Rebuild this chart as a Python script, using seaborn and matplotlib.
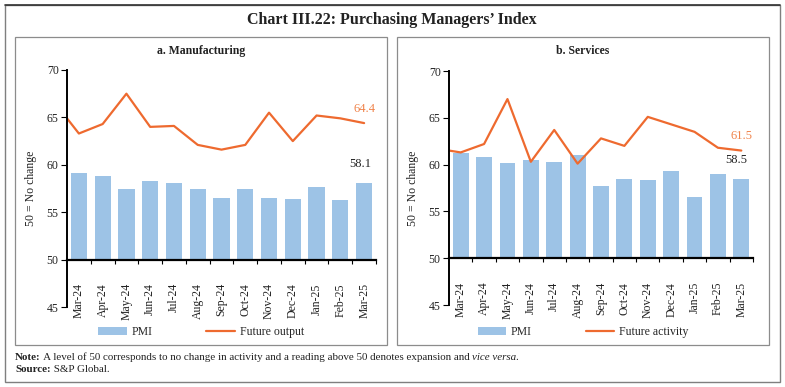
import numpy as np
import pandas as pd
import matplotlib
matplotlib.use("Agg")
import matplotlib.pyplot as plt
from matplotlib.patches import Rectangle
from matplotlib.lines import Line2D
from matplotlib.ticker import FixedLocator
import seaborn as sns

# ---------------- data ----------------
months = ["Mar-24", "Apr-24", "May-24", "Jun-24", "Jul-24", "Aug-24", "Sep-24",
          "Oct-24", "Nov-24", "Dec-24", "Jan-25", "Feb-25", "Mar-25"]

mfg_pmi = [59.1, 58.8, 57.5, 58.3, 58.1, 57.5, 56.5, 57.5, 56.5, 56.4, 57.7, 56.3, 58.1]
# future output: first value is the preceding month (drawn at the axis edge)
mfg_future = [64.9, 63.3, 64.3, 67.5, 64.0, 64.1, 62.1, 61.6, 62.1, 65.5, 62.5, 65.2, 64.9, 64.4]

svc_pmi = [61.2, 60.8, 60.2, 60.5, 60.3, 61.0, 57.7, 58.5, 58.4, 59.3, 56.5, 59.0, 58.5]
svc_future = [61.5, 61.3, 62.2, 67.0, 60.3, 63.7, 60.1, 62.8, 62.0, 65.1, 64.3, 63.5, 61.8, 61.5]

yticks = [45, 50, 55, 60, 65, 70]

# ---------------- style ----------------
sns.set_theme(style="white")
plt.rcParams["font.family"] = ["Liberation Serif", "DejaVu Serif"]

BAR = "#9DC3E6"
LINE = "#EE6A2F"
LABEL_OR = "#F0834A"
TXT = "#222222"
W, H = 785, 387

fig = plt.figure(figsize=(7.85, 3.87), dpi=100)
renderer = fig.canvas.get_renderer()


def fx(px):
    return px / W


def fy(py):
    return 1 - py / H


def rich_text(x_px, y_px, pieces, size):
    """Draw consecutive text pieces (text, weight, style) on one line."""
    x = x_px
    for txt, weight, style in pieces:
        t = fig.text(fx(x), fy(y_px), txt, fontsize=size, fontweight=weight, fontstyle=style,
                     va="center", ha="left", color=TXT)
        bb = t.get_window_extent(renderer=renderer)
        x += bb.width - (1 if style == "italic" else 0)


# outer frame
fig.add_artist(Rectangle((fx(5), fy(382)), fx(775), (382 - 5) / H, transform=fig.transFigure,
                         fill=False, edgecolor="#7f7f7f", lw=1.0))
fig.add_artist(Line2D([fx(5), fx(780)], [fy(5), fy(5)], transform=fig.transFigure,
                      color="#333333", lw=1.2))

fig.text(fx(392), fy(20), "Chart III.22: Purchasing Managers\u2019 Index", ha="center", va="center",
         fontsize=11.5, fontweight="bold", color=TXT)


def panel(box, axrect, title, pmi, fut, fut_name, lab_fut, lab_pmi, pmi_dx):
    x0, y0, x1, y1 = box
    fig.add_artist(Rectangle((fx(x0), fy(y1)), fx(x1 - x0), (y1 - y0) / H, transform=fig.transFigure,
                             fill=False, edgecolor="#8c8c8c", lw=0.9))
    fig.text(fx((x0 + x1) / 2), fy(51), title, ha="center", va="center", fontsize=8.5,
             fontweight="bold", color=TXT)
    ax = fig.add_axes(axrect)
    df = pd.DataFrame({"month": months, "pmi": pmi})
    # bars rise from the 50 line
    df["height"] = df["pmi"] - 50
    sns.barplot(data=df, x="month", y="height", color=BAR, saturation=1, width=0.68, ax=ax)
    for p in ax.patches:
        p.set_y(p.get_y() + 50)
        p.set_edgecolor("none")
    pos = np.r_[-0.5, np.arange(len(months))]
    sns.lineplot(x=pos, y=fut, color=LINE, lw=1.6, ax=ax)
    ax.set_xlim(-0.5, len(months) - 0.5)
    ax.set_ylim(45, 70)
    ax.set_yticks(yticks)
    ax.set_yticklabels([str(t) for t in yticks], fontsize=8.5, color=TXT)
    ax.set_xlabel("")
    ax.set_ylabel("50 = No change", fontsize=8.5, color=TXT, labelpad=7)
    for s in ["top", "right"]:
        ax.spines[s].set_visible(False)
    ax.spines["left"].set_color("black")
    ax.spines["left"].set_linewidth(1.4)
    ax.spines["bottom"].set_color("black")
    ax.spines["bottom"].set_linewidth(1.6)
    ax.spines["bottom"].set_position(("data", 50))
    ax.set_xticks(np.arange(len(months)))
    ax.set_xticklabels(months, rotation=90, fontsize=8.5, color=TXT)
    ax.xaxis.set_minor_locator(FixedLocator(np.arange(len(months)) + 0.5))
    ax.tick_params(axis="x", which="major", length=0, pad=17)
    ax.tick_params(axis="x", which="minor", length=3, width=0.8, color="black", direction="out", bottom=True)
    ax.tick_params(axis="y", length=4, width=0.8, color="black", direction="out", left=True, pad=2)
    ax.patch.set_alpha(0)
    last = len(months) - 1
    ax.annotate(lab_fut, (last, fut[-1]), xytext=(0, 6), textcoords="offset points",
                ha="center", va="bottom", fontsize=9, color=LABEL_OR)
    ax.annotate(lab_pmi, (last, pmi[-1]), xytext=(pmi_dx, 9), textcoords="offset points",
                ha="center", va="bottom", fontsize=9, color=TXT)
    handles = [Rectangle((0, 0), 1, 1, facecolor=BAR, edgecolor="none"),
               Line2D([0], [0], color=LINE, lw=1.6)]
    fig.legend(handles, ["PMI", fut_name], loc="center", bbox_to_anchor=(fx((x0 + x1) / 2), fy(332)),
               ncol=2, frameon=False, fontsize=8.5, handlelength=2.4, handleheight=0.6,
               columnspacing=4.6, handletextpad=0.4)
    return ax


panel((15, 37, 387, 345), [fx(67), fy(307), fx(376 - 67), (307 - 70) / H],
      "a. Manufacturing", mfg_pmi, mfg_future, "Future output", "64.4", "58.1", -3)
panel((397, 37, 769, 345), [fx(449), fy(305), fx(753 - 449), (305 - 71) / H],
      "b. Services", svc_pmi, svc_future, "Future activity", "61.5", "58.5", -4)

rich_text(15, 357, [("Note:", "bold", "normal"),
                    (" A level of 50 corresponds to no change in activity and a reading above 50 "
                     "denotes expansion and ", "normal", "normal"),
                    ("vice versa", "normal", "italic"),
                    (".", "normal", "normal")], 7.9)
rich_text(15, 369, [("Source:", "bold", "normal"), (" S&P Global.", "normal", "normal")], 7.9)

fig.savefig("out.png", dpi=100)
